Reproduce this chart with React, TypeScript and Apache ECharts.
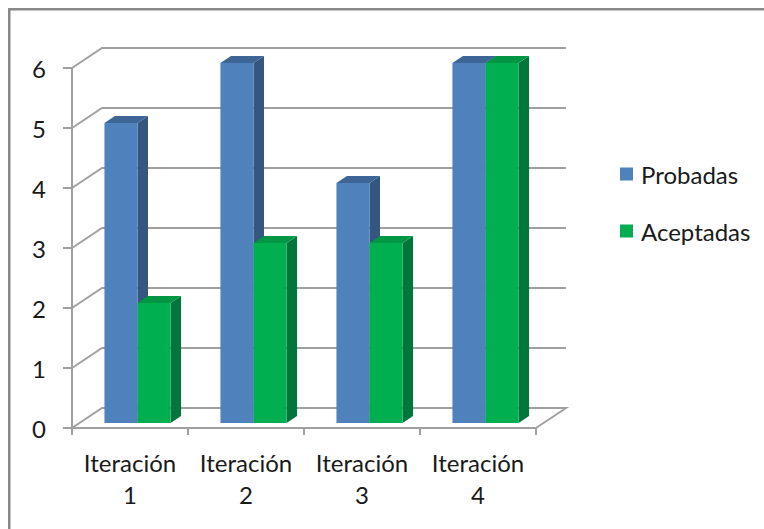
import React, { useEffect, useRef } from "react";
import * as echarts from "echarts";

const categories = ["Iteración\n1", "Iteración\n2", "Iteración\n3", "Iteración\n4"];
const probadas = [5, 6, 4, 6];
const aceptadas = [2, 3, 3, 6];
const yTicks = [0, 1, 2, 3, 4, 5, 6];
const seriesNames = ["Probadas", "Aceptadas"];

const FONT = "Lato";
const DX = 30; // depth offset in px (x)
const DY = 20; // depth offset in px (y)
const Z_FRONT = 0.25;
const Z_BACK = 0.6;
const BAR_FRAC = 0.285;
const GRID_COLOR = "#a0a0a0";

const faceColors = [
  { front: "#4f81bd", side: "#34567f", top: "#3d6697" },
  { front: "#00b050", side: "#00763a", top: "#009644" },
];

function makeBarRender(seriesIndex: number) {
  return (params: any, api: any) => {
    const idx = api.value(0);
    const v = api.value(1);
    const top = api.coord([idx, v]);
    const base = api.coord([idx, 0]);
    const catW = api.size([1, 0])[0];
    const barW = catW * BAR_FRAC;
    const xl = top[0] - barW + seriesIndex * barW + Z_FRONT * DX;
    const yt = top[1] - Z_FRONT * DY;
    const yb = base[1] - Z_FRONT * DY;
    const ddx = (Z_BACK - Z_FRONT) * DX;
    const ddy = (Z_BACK - Z_FRONT) * DY;
    const c = faceColors[seriesIndex];
    return {
      type: "group",
      children: [
        {
          type: "polygon",
          shape: {
            points: [
              [xl + barW, yt],
              [xl + barW + ddx, yt - ddy],
              [xl + barW + ddx, yb - ddy],
              [xl + barW, yb],
            ],
          },
          style: { fill: c.side },
        },
        {
          type: "polygon",
          shape: {
            points: [
              [xl, yt],
              [xl + barW, yt],
              [xl + barW + ddx, yt - ddy],
              [xl + ddx, yt - ddy],
            ],
          },
          style: { fill: c.top },
        },
        {
          type: "rect",
          shape: { x: xl, y: yt, width: barW, height: yb - yt },
          style: { fill: c.front },
        },
      ],
    };
  };
}

function gridRender(params: any, api: any) {
  const v = api.value(1);
  const p = api.coord([0, v]);
  const catW = api.size([1, 0])[0];
  const left = p[0] - catW / 2;
  const right = left + catW * categories.length;
  const y = p[1];
  const pts: number[][] = [
    [left, y],
    [left + DX, y - DY],
    [right + DX, y - DY],
  ];
  if (v === 0) pts.push([right, y]);
  return {
    type: "polyline",
    shape: { points: pts },
    style: { stroke: GRID_COLOR, lineWidth: 2, fill: "none" },
  };
}

export default function App() {
  const ref = useRef<HTMLDivElement>(null);
  useEffect(() => {
    if (!ref.current) return;
    const chart = echarts.init(ref.current, null, { renderer: "svg" });
    chart.setOption({
      animation: false,
      backgroundColor: "#ffffff",
      textStyle: { fontFamily: FONT },
      graphic: [
        {
          type: "rect",
          shape: { x: 9.25, y: 9.25, width: 800, height: 600 },
          style: { fill: "none", stroke: "#888888", lineWidth: 2.5 },
          silent: true,
        },
      ],
      grid: { left: 72, right: 228, top: 68, bottom: 101, containLabel: false },
      legend: {
        orient: "vertical",
        left: 615,
        top: 157,
        itemWidth: 13,
        itemHeight: 13,
        itemGap: 33,
        icon: "rect",
        data: seriesNames,
        textStyle: {
          fontFamily: FONT,
          fontSize: 24,
          lineHeight: 24,
          color: "#1a1a1a",
          padding: [0, 0, 0, 3],
        },
      },
      xAxis: {
        type: "category",
        data: categories,
        boundaryGap: true,
        axisLine: { show: true, lineStyle: { color: GRID_COLOR, width: 2 } },
        axisTick: { show: true, length: 7, lineStyle: { color: GRID_COLOR, width: 2 } },
        axisLabel: {
          interval: 0,
          fontFamily: FONT,
          fontSize: 24,
          lineHeight: 32,
          color: "#1a1a1a",
          margin: 18,
        },
        splitLine: { show: false },
      },
      yAxis: {
        type: "value",
        min: 0,
        max: 6,
        interval: 1,
        axisLine: { show: true, lineStyle: { color: GRID_COLOR, width: 2 } },
        axisTick: { show: true, length: 9, lineStyle: { color: GRID_COLOR, width: 2 } },
        axisLabel: { fontFamily: FONT, fontSize: 24, color: "#1a1a1a", margin: 26 },
        splitLine: { show: false },
      },
      series: [
        {
          type: "custom",
          name: "grid",
          silent: true,
          clip: false,
          renderItem: gridRender,
          data: yTicks.map((v) => [0, v]),
          encode: { x: 0, y: 1 },
          z: 1,
        },
        {
          type: "custom",
          name: seriesNames[0],
          clip: false,
          renderItem: makeBarRender(0),
          itemStyle: { color: faceColors[0].front },
          data: probadas.map((v, i) => [i, v]),
          encode: { x: 0, y: 1 },
          z: 2,
        },
        {
          type: "custom",
          name: seriesNames[1],
          clip: false,
          renderItem: makeBarRender(1),
          itemStyle: { color: faceColors[1].front },
          data: aceptadas.map((v, i) => [i, v]),
          encode: { x: 0, y: 1 },
          z: 3,
        },
      ],
    });
    return () => chart.dispose();
  }, []);
  return (
    <div
      ref={ref}
      style={{ position: "fixed", left: 0, top: 0, width: 764, height: 529 }}
    />
  );
}
